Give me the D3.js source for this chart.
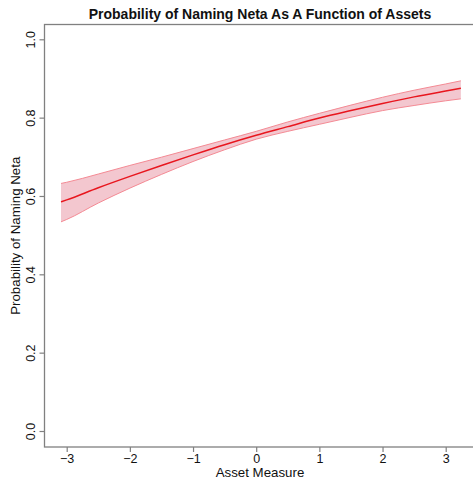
<!DOCTYPE html>
<html><head><meta charset="utf-8">
<script src="https://cdn.jsdelivr.net/npm/d3@7"></script>
<style>body{margin:0;background:#fff}svg{display:block}text{font-family:"Liberation Sans",Arial,sans-serif}</style>
</head><body><svg id="c" width="473" height="480"></svg>
<script>
const xs    = [-3.09, -3, -2.5, -2, -1.5, -1, -0.5, 0, 0.5, 1, 1.5, 2, 2.5, 3, 3.24];
const mean  = [0.585,0.590,0.621,0.650,0.678,0.705,0.731,0.755,0.777,0.799,0.818,0.836,0.853,0.868,0.875];
const upper = [0.632,0.635,0.656,0.678,0.699,0.721,0.743,0.765,0.789,0.811,0.832,0.852,0.870,0.886,0.894];
const lower = [0.534,0.540,0.582,0.620,0.655,0.688,0.718,0.745,0.765,0.783,0.801,0.818,0.831,0.843,0.848];
const xTicks = [-3,-2,-1,0,1,2,3];
const yTicks = [0,0.2,0.4,0.6,0.8,1.0];

const svg = d3.select("#c");
const x = d3.scaleLinear().domain([-3,3]).range([66.7,445.7]);
const y = d3.scaleLinear().domain([0,1]).range([431,39.3]);
const L=44.5, R=476, T=24.5, B=447;
const pts = xs.map((v,i)=>({x:v,m:mean[i],u:upper[i],l:lower[i]}));
const axisCol = "#808080";

svg.append("path").datum(pts)
  .attr("d", d3.area().x(d=>x(d.x)).y0(d=>y(d.l)).y1(d=>y(d.u)).curve(d3.curveMonotoneX))
  .attr("fill","#f3c7cf").attr("stroke","none");
["u","l"].forEach(k=>{
  svg.append("path").datum(pts)
    .attr("d", d3.line().x(d=>x(d.x)).y(d=>y(d[k])).curve(d3.curveMonotoneX))
    .attr("fill","none").attr("stroke","#f48a94").attr("stroke-width",1);
});
svg.append("path").datum(pts)
  .attr("d", d3.line().x(d=>x(d.x)).y(d=>y(d.m)).curve(d3.curveMonotoneX))
  .attr("fill","none").attr("stroke","#e8161e").attr("stroke-width",1.5);

svg.append("rect").attr("x",L).attr("y",T).attr("width",R-L).attr("height",B-T)
  .attr("fill","none").attr("stroke",axisCol).attr("stroke-width",1.3);

// x axis
const xa = svg.append("g").attr("transform",`translate(0,${B})`)
  .call(d3.axisBottom(x).tickValues(xTicks).tickSize(5).tickPadding(2)
    .tickFormat(d=>d<0?"\u2212"+Math.abs(d):String(d)));
xa.select(".domain").remove();
xa.selectAll("line").attr("stroke",axisCol).attr("stroke-width",1.2);
xa.selectAll("text").attr("font-size",12.5).attr("fill","#111")
  .attr("font-family","Liberation Sans, Arial, sans-serif");

// y axis
const ya = svg.append("g").attr("transform",`translate(${L},0)`)
  .call(d3.axisLeft(y).tickValues(yTicks).tickSize(5).tickFormat(d3.format(".1f")));
ya.select(".domain").remove();
ya.selectAll("line").attr("stroke",axisCol).attr("stroke-width",1.2);
ya.selectAll("text")
  .attr("font-size",12.5).attr("fill","#111").attr("font-family","Liberation Sans, Arial, sans-serif")
  .attr("x",null).attr("dy",null).attr("text-anchor","middle")
  .attr("transform","translate(-9.5,0) rotate(-90)").attr("y",0);

svg.append("text").attr("x",260).attr("y",18.5).attr("text-anchor","middle")
  .attr("font-size",14).attr("font-weight","bold").attr("fill","#111")
  .text("Probability of Naming Neta As A Function of Assets");
svg.append("text").attr("x",260).attr("y",477).attr("text-anchor","middle")
  .attr("font-size",13.3).attr("fill","#111").text("Asset Measure");
svg.append("text").attr("transform",`translate(20,${(T+B)/2}) rotate(-90)`).attr("text-anchor","middle")
  .attr("font-size",13.3).attr("fill","#111").text("Probability of Naming Neta");
</script></body></html>
